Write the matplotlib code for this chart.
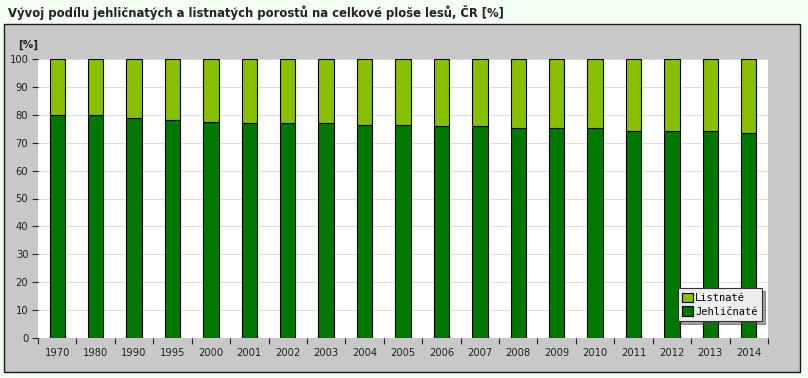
import numpy as np
import matplotlib.pyplot as plt
from matplotlib.patches import Rectangle

years = ['1970', '1980', '1990', '1995', '2000', '2001', '2002', '2003', '2004', '2005',
         '2006', '2007', '2008', '2009', '2010', '2011', '2012', '2013', '2014']
jehlicnate = [80.0, 79.9, 79.0, 78.3, 77.3, 77.2, 77.1, 77.0, 76.3, 76.2,
              76.1, 76.0, 75.3, 75.2, 75.1, 74.3, 74.2, 74.1, 73.6]
listnate = [100 - v for v in jehlicnate]

dark = '#007800'
light = '#88c000'

fig = plt.figure(figsize=(8.08, 3.78), dpi=100)
fig.patch.set_facecolor('#f2fff2')

# grey panel behind the chart
fig.add_artist(Rectangle((4 / 808, 1 - 372 / 378), 796 / 808, 348 / 378,
                         transform=fig.transFigure, facecolor='#c8c8c8',
                         edgecolor='#1a1a1a', linewidth=1, zorder=-10))

fig.text(8 / 808, 1 - 12 / 378, 'Vývoj podílu jehličnatých a listnatých porostů na celkové ploše lesů, ČR [%]',
         fontsize=8.4, fontweight='bold', color='#222222', va='center', ha='left')
fig.text(28 / 808, 1 - 45 / 378, '[%]', fontsize=7.5, fontweight='bold', color='#222222',
         va='center', ha='center')

ax = fig.add_axes([38 / 808, 1 - 338 / 378, 730 / 808, 279 / 378])
ax.set_facecolor('white')

x = np.arange(len(years))
ax.bar(x, jehlicnate, width=0.4, color=dark, edgecolor='black', linewidth=0.8,
       label='Jehličnaté', zorder=3)
ax.bar(x, listnate, width=0.4, bottom=jehlicnate, color=light, edgecolor='black',
       linewidth=0.8, label='Listnaté', zorder=3)

ax.set_xlim(-0.5, len(years) - 0.5)
ax.set_ylim(0, 100)
ax.set_yticks(range(0, 101, 10))
ax.yaxis.grid(True, color='#dcdcdc', linewidth=0.8, zorder=0)
ax.tick_params(axis='y', length=4, width=0.8, color='#222222', labelsize=7.2,
               labelcolor='#222222', pad=3)

ax.set_xticks(x)
ax.set_xticklabels(years)
ax.set_xticks(np.arange(-0.5, len(years), 1), minor=True)
ax.tick_params(axis='x', which='major', length=0, labelsize=7.2, labelcolor='#222222', pad=7)
ax.tick_params(axis='x', which='minor', length=4, width=0.8, color='#222222')

for s in ax.spines.values():
    s.set_visible(False)

handles, labels = ax.get_legend_handles_labels()
leg = ax.legend(handles[::-1], labels[::-1], loc='lower right',
                bbox_to_anchor=(0.992, 0.06), prop={'family': 'DejaVu Sans Mono', 'size': 7.5},
                frameon=True, fancybox=False, shadow=True, handlelength=1.0,
                handleheight=1.0, handletextpad=0.2, borderpad=0.45, labelspacing=0.3,
                borderaxespad=0)
leg.get_frame().set_facecolor('#eeeeee')
leg.get_frame().set_edgecolor('#333333')
leg.get_frame().set_linewidth(0.8)

fig.savefig('out.png', dpi=100, facecolor=fig.get_facecolor())
